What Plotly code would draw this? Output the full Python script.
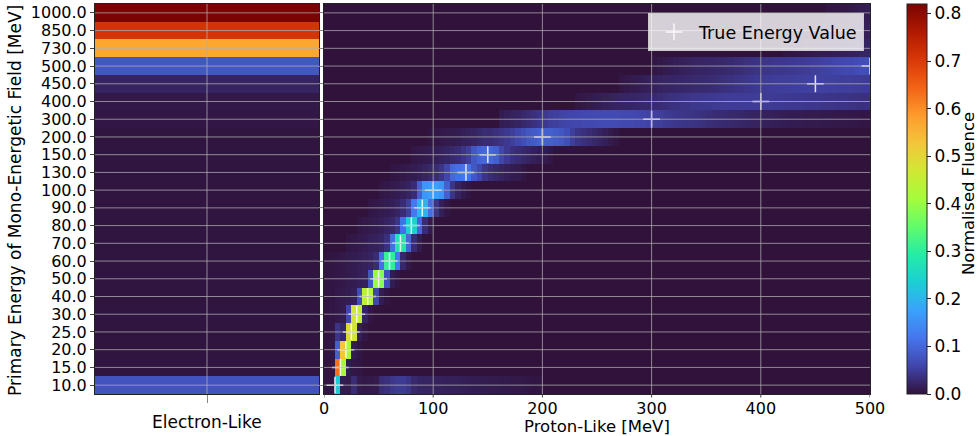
import numpy as np
import plotly.graph_objects as go

# Primary energies of the mono-energetic fields (rows, bottom to top) [MeV]
primary_energy = [10, 15, 20, 25, 30, 40, 50, 60, 70, 80, 90, 100,
                  130, 150, 200, 300, 400, 450, 500, 730, 850, 1000]
row_labels = [f"{e:.1f}" for e in primary_energy]

# Fluence classified as electron-like, one value per primary energy
electron_like = [0.075, 0.003, 0.003, 0.003, 0.003, 0.003, 0.003, 0.003,
                 0.003, 0.003, 0.003, 0.003, 0.003, 0.003, 0.003, 0.006,
                 0.008, 0.02, 0.08, 0.57, 0.71, 0.82]

# Proton-like energy spectra: 5 MeV bins, each profile starts at the given energy
bin_width = 5
energy_edges = np.arange(0, 500 + bin_width, bin_width)
energy_ticks = [0, 100, 200, 300, 400, 500]

p010 = [0.004, 0.005, 0.23, 0.012, 0.01, 0.03, 0.01, 0.008, 0.008, 0.01, 0.03,
        0.035, 0.042, 0.046, 0.046, 0.04, 0.026, 0.022, 0.02, 0.02, 0.018, 0.018,
        0.016, 0.016, 0.015, 0.014, 0.013, 0.012, 0.012, 0.011, 0.01, 0.01, 0.009,
        0.009, 0.008, 0.008, 0.007, 0.006, 0.005, 0.004]
p015 = [0.003, 0.005, 0.63, 0.41, 0.012, 0.006, 0.004]
p020 = [0.003, 0.006, 0.09, 0.53, 0.42, 0.012, 0.005]
p025 = [0.003, 0.006, 0.04, 0.025, 0.49, 0.47, 0.015, 0.006]
p030 = [0.003, 0.006, 0.008, 0.012, 0.06, 0.47, 0.45, 0.02, 0.006]
p040 = [0.003, 0.005, 0.008, 0.01, 0.012, 0.015, 0.07, 0.44, 0.43, 0.06, 0.012, 0.005]
p050 = [0.003, 0.005, 0.006, 0.008, 0.01, 0.012, 0.015, 0.018, 0.08, 0.40, 0.39,
        0.07, 0.012, 0.005]
p060 = [0.002, 0.004, 0.006, 0.008, 0.01, 0.012, 0.014, 0.016, 0.02, 0.03, 0.11,
        0.31, 0.30, 0.12, 0.025, 0.008]
p070 = [0.006, 0.008, 0.01, 0.012, 0.015, 0.018, 0.022, 0.035, 0.11, 0.28, 0.28,
        0.10, 0.03, 0.01]
p080 = [0.006, 0.008, 0.01, 0.012, 0.015, 0.02, 0.025, 0.04, 0.11, 0.235, 0.235,
        0.10, 0.03, 0.01]
p090 = [0.006, 0.008, 0.01, 0.012, 0.015, 0.02, 0.03, 0.05, 0.12, 0.20, 0.20, 0.11,
        0.04, 0.015, 0.006]
p100 = [0.006, 0.008, 0.01, 0.012, 0.015, 0.02, 0.03, 0.09, 0.16, 0.17, 0.17, 0.16,
        0.09, 0.04, 0.02, 0.01, 0.005]
p130 = [0.005, 0.006, 0.008, 0.01, 0.012, 0.015, 0.02, 0.025, 0.03, 0.04, 0.06, 0.10,
        0.11, 0.115, 0.11, 0.08, 0.06, 0.04, 0.03, 0.025, 0.02, 0.015, 0.012, 0.01,
        0.006]
p150 = [0.006, 0.008, 0.01, 0.012, 0.015, 0.018, 0.022, 0.026, 0.03, 0.04, 0.05,
        0.08, 0.095, 0.10, 0.10, 0.09, 0.06, 0.045, 0.035, 0.03, 0.025, 0.02, 0.015,
        0.012, 0.01, 0.006]
p200 = [0.005, 0.006, 0.008, 0.01, 0.01, 0.012, 0.015, 0.018, 0.02, 0.025, 0.03,
        0.03, 0.035, 0.04, 0.045, 0.05, 0.06, 0.07, 0.08, 0.085, 0.09, 0.09, 0.09,
        0.085, 0.08, 0.07, 0.05, 0.04, 0.035, 0.03, 0.025, 0.02, 0.015, 0.01, 0.006]
p300 = [0.012, 0.015, 0.018, 0.02, 0.025, 0.03, 0.035, 0.04, 0.045, 0.05, 0.052,
        0.055, 0.057, 0.06, 0.06, 0.062, 0.064, 0.065, 0.066, 0.066, 0.066, 0.066,
        0.065, 0.064, 0.062, 0.06, 0.058, 0.055, 0.052, 0.05, 0.047, 0.045, 0.043,
        0.041, 0.04, 0.038, 0.036, 0.034, 0.032, 0.03, 0.029, 0.028, 0.026, 0.025,
        0.024, 0.022, 0.02, 0.019, 0.018, 0.016, 0.015, 0.014, 0.013, 0.012, 0.012,
        0.011, 0.01, 0.01, 0.01, 0.009, 0.009, 0.008, 0.008, 0.008, 0.007, 0.007,
        0.006, 0.006]
p400 = [0.006, 0.008, 0.01, 0.012, 0.014, 0.016, 0.018, 0.02, 0.021, 0.022, 0.023,
        0.024, 0.025, 0.026, 0.028, 0.03, 0.032, 0.034, 0.036, 0.038, 0.04, 0.042,
        0.043, 0.044, 0.045, 0.046, 0.047, 0.048, 0.048, 0.048, 0.048, 0.048, 0.048,
        0.048, 0.047, 0.047, 0.046, 0.046, 0.045, 0.045, 0.044, 0.044, 0.043, 0.043,
        0.042, 0.041, 0.04, 0.04, 0.039, 0.038, 0.037, 0.036, 0.035, 0.034]
p450 = [0.006, 0.008, 0.01, 0.012, 0.014, 0.016, 0.018, 0.02, 0.021, 0.022, 0.023,
        0.024, 0.025, 0.026, 0.027, 0.028, 0.029, 0.03, 0.032, 0.034, 0.036, 0.038,
        0.04, 0.042, 0.044, 0.046, 0.047, 0.048, 0.049, 0.05, 0.05, 0.051, 0.052,
        0.052, 0.053, 0.053, 0.053, 0.053, 0.052, 0.052, 0.051, 0.05, 0.05, 0.049,
        0.048, 0.047]
p500 = [0.006, 0.008, 0.01, 0.012, 0.014, 0.016, 0.018, 0.02, 0.021, 0.022, 0.023,
        0.024, 0.025, 0.026, 0.028, 0.03, 0.032, 0.034, 0.036, 0.038, 0.04, 0.041,
        0.042, 0.043, 0.044, 0.045, 0.046, 0.047, 0.048, 0.05, 0.052, 0.054, 0.056,
        0.058, 0.06, 0.062, 0.064, 0.066, 0.068, 0.07]
p730 = [0.004, 0.005, 0.006, 0.007, 0.008, 0.009, 0.01, 0.011, 0.012, 0.013, 0.014,
        0.015, 0.016, 0.018, 0.02, 0.022]
p850 = [0.004, 0.005, 0.006, 0.007, 0.008, 0.009, 0.01, 0.012, 0.014, 0.016]
p1000 = [0.004, 0.005, 0.006, 0.007, 0.008, 0.01, 0.012, 0.014]

profile_start_mev = [0, 0, 0, 0, 0, 0, 0, 0, 20, 30, 40, 50, 60, 80, 95, 160,
                     230, 270, 300, 420, 450, 460]
proton_profiles = [p010, p015, p020, p025, p030, p040, p050, p060, p070, p080,
                   p090, p100, p130, p150, p200, p300, p400, p450, p500, p730,
                   p850, p1000]

n_rows = len(primary_energy)
n_bins = len(energy_edges) - 1
proton_like = np.zeros((n_rows, n_bins))
for r, (start, prof) in enumerate(zip(profile_start_mev, proton_profiles)):
    b0 = start // bin_width
    proton_like[r, b0:b0 + len(prof)] = prof

row_pos = list(range(n_rows))
z_max = 0.82

# Canvas and plot-area geometry in pixels
W, H = 979, 436
L, R, T, B = 95, 870, 4, 394          # outer edges of the two panels
PW, PH = R - L, B - T
split_left, split_right = 319, 324    # gap between the two panels
FONT = "DejaVu Sans"
FS = 17        # axis titles
FT = 16        # tick labels


def px_x(px):
    return (px - L) / PW


def px_y(py):
    return (B - py) / PH


fig = go.Figure()

fig.add_trace(go.Heatmap(
    x=[0], y=row_pos, z=[[v] for v in electron_like],
    coloraxis="coloraxis", xaxis="x", yaxis="y", hoverinfo="skip",
))
fig.add_trace(go.Heatmap(
    x=energy_edges, y=row_pos, z=proton_like,
    coloraxis="coloraxis", xaxis="x2", yaxis="y2", hoverinfo="skip",
))
fig.add_trace(go.Scatter(
    x=primary_energy, y=row_pos, mode="markers", name="True Energy Value",
    xaxis="x2", yaxis="y2", cliponaxis=True,
    marker=dict(symbol="cross-thin", size=12,
                line=dict(width=1.5, color="rgba(255,255,255,0.85)")),
))

grid_col = "rgba(176,176,176,0.75)"
shapes = []
for r in row_pos:
    for xr in ("x domain", "x2 domain"):
        shapes.append(dict(type="line", xref=xr, yref="y", x0=0, x1=1, y0=r, y1=r,
                           layer="above", line=dict(color=grid_col, width=1)))
for xv in energy_ticks[1:-1]:
    shapes.append(dict(type="line", xref="x2", yref="y2 domain", x0=xv, x1=xv,
                       y0=0, y1=1, layer="above", line=dict(color=grid_col, width=1)))
shapes.append(dict(type="line", xref="x", yref="y domain", x0=0, x1=0, y0=0, y1=1,
                   layer="above", line=dict(color=grid_col, width=1)))
# short outward tick marks under the proton-like energy axis
for xv in energy_ticks:
    shapes.append(dict(type="line", xref="x2", yref="paper", x0=xv, x1=xv,
                       y0=0, y1=-3.5 / PH, layer="above",
                       line=dict(color="#444", width=1)))

axis_common = dict(showgrid=False, zeroline=False, showline=True, mirror=True,
                   linecolor="#222", linewidth=1, ticks="outside", automargin=False,
                   tickfont=dict(family=FONT, size=FT, color="black"))

fig.update_layout(
    width=W, height=H,
    margin=dict(l=L, r=W - R, t=T, b=H - B, pad=0, autoexpand=False),
    paper_bgcolor="white", plot_bgcolor="white",
    font=dict(family=FONT, size=FT, color="black"),
    shapes=shapes,
    xaxis=dict(domain=[0, px_x(split_left)], anchor="y", range=[-0.5, 0.5],
               tickvals=[0], ticktext=[""], ticklen=8, tickcolor="#888",
               **axis_common),
    yaxis=dict(domain=[0, 1], anchor="x", range=[-0.5, n_rows - 0.5],
               tickvals=row_pos, ticktext=row_labels, ticklen=4,
               tickcolor="#444", **axis_common),
    xaxis2=dict(domain=[px_x(split_right), 1], anchor="y2", range=[0, 500],
                tickvals=energy_ticks,
                **{**axis_common, "ticks": ""}),
    yaxis2=dict(domain=[0, 1], anchor="x2", matches="y", tickvals=row_pos,
                showticklabels=False, ticklen=4, tickcolor="#888",
                **{k: v for k, v in axis_common.items() if k != "tickfont"}),
    coloraxis=dict(
        colorscale="Turbo", cmin=0, cmax=z_max,
        colorbar=dict(
            x=px_x(907), xanchor="left", xref="paper",
            y=0, yanchor="bottom", yref="paper", len=1, lenmode="fraction",
            thickness=20, thicknessmode="pixels", xpad=0, ypad=0,
            outlinewidth=1, outlinecolor="#222",
            tickvals=[0, 0.1, 0.2, 0.3, 0.4, 0.5, 0.6, 0.7, 0.8],
            ticktext=["0.0", "0.1", "0.2", "0.3", "0.4", "0.5", "0.6", "0.7", "0.8"],
            ticks="outside", ticklen=4, tickcolor="#222",
            tickfont=dict(family=FONT, size=FS, color="black"),
        ),
    ),
    legend=dict(x=px_x(864), xanchor="right", y=px_y(13), yanchor="top",
                bgcolor="rgba(255,255,255,0.8)", bordercolor="#cccccc",
                borderwidth=1, font=dict(family=FONT, size=17.5, color="black"),
                itemwidth=40),
    showlegend=True,
    annotations=[
        dict(text="Primary Energy of Mono-Energetic Field [MeV]", textangle=-90,
             x=px_x(15), y=px_y(201), xref="paper", yref="paper",
             xanchor="center", yanchor="middle", showarrow=False,
             font=dict(family=FONT, size=FS, color="black")),
        dict(text="Normalised Fluence", textangle=-90,
             x=px_x(968), y=px_y(194), xref="paper", yref="paper",
             xanchor="center", yanchor="middle", showarrow=False,
             font=dict(family=FONT, size=16.5, color="black")),
        dict(text="Electron-Like", x=px_x(207), y=px_y(422), xref="paper",
             yref="paper", xanchor="center", yanchor="middle", showarrow=False,
             font=dict(family=FONT, size=FS, color="black")),
        dict(text="Proton-Like [MeV]", x=px_x(597), y=px_y(426), xref="paper",
             yref="paper", xanchor="center", yanchor="middle", showarrow=False,
             font=dict(family=FONT, size=16.5, color="black")),
    ],
)

fig.write_html("out.html")
